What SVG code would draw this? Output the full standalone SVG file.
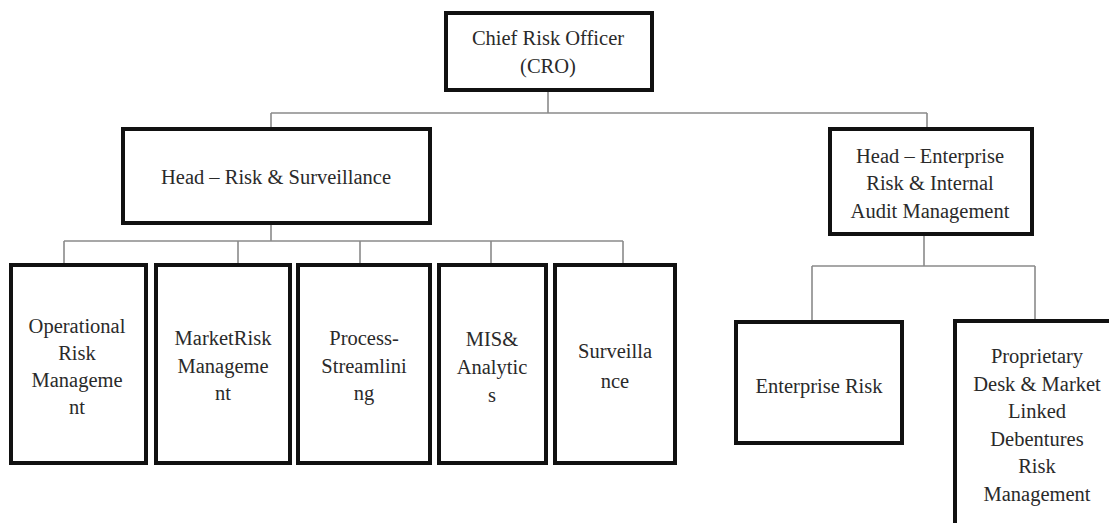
<svg xmlns="http://www.w3.org/2000/svg" width="1109" height="523" viewBox="0 0 1109 523">
<style>
.box{fill:#fff;stroke:#111;stroke-width:4}
.ln{fill:none;stroke:#8a8a8a;stroke-width:1.6}
text{font-family:"Liberation Serif","Times New Roman",serif;font-size:20.5px;fill:#2a2a2a;text-anchor:middle}
</style>
<rect width="1109" height="523" fill="#fff"/>
<g id="connectors">
<path class="ln" d="M548 90V113M271 113H927M271 113V129M927 113V129"/>
<path class="ln" d="M271 223V241M64 241H623M64 241V265M238 241V265M360 241V265M491 241V265M623 241V265"/>
<path class="ln" d="M924 234V266M812 266H1035M812 266V322M1035 266V321"/>
</g>
<g id="cro"><rect class="box" x="446" y="13" width="206" height="77"/>
<text x="548" y="45">Chief Risk Officer</text><text x="548" y="73">(CRO)</text></g>
<g id="head-rs"><rect class="box" x="123" y="129" width="307" height="94"/>
<text x="276" y="184">Head – Risk &amp; Surveillance</text></g>
<g id="head-er"><rect class="box" x="830" y="129" width="202" height="105"/>
<text x="930" y="163">Head – Enterprise</text><text x="930" y="190">Risk &amp; Internal</text><text x="930" y="218">Audit Management</text></g>
<g id="op-risk"><rect class="box" x="11" y="265" width="135" height="198"/>
<text x="77" y="333">Operational</text><text x="77" y="360">Risk</text><text x="77" y="387">Manageme</text><text x="77" y="414">nt</text></g>
<g id="market-risk"><rect class="box" x="156" y="265" width="134" height="198"/>
<text x="223" y="345">MarketRisk</text><text x="223" y="373">Manageme</text><text x="223" y="400">nt</text></g>
<g id="process"><rect class="box" x="298" y="265" width="132" height="198"/>
<text x="364" y="345">Process-</text><text x="364" y="373">Streamlini</text><text x="364" y="400">ng</text></g>
<g id="mis"><rect class="box" x="439" y="265" width="107" height="198"/>
<text x="492" y="346">MIS&amp;</text><text x="492" y="374">Analytic</text><text x="492" y="402">s</text></g>
<g id="surv"><rect class="box" x="555" y="265" width="120" height="198"/>
<text x="615" y="358">Surveilla</text><text x="615" y="388">nce</text></g>
<g id="ent-risk"><rect class="box" x="736" y="322" width="166" height="121"/>
<text x="819" y="393">Enterprise Risk</text></g>
<g id="prop"><rect class="box" x="955" y="321" width="160" height="210"/>
<text x="1037" y="363">Proprietary</text><text x="1037" y="391">Desk &amp; Market</text><text x="1037" y="418">Linked</text><text x="1037" y="446">Debentures</text><text x="1037" y="473">Risk</text><text x="1037" y="501">Management</text></g>
</svg>
